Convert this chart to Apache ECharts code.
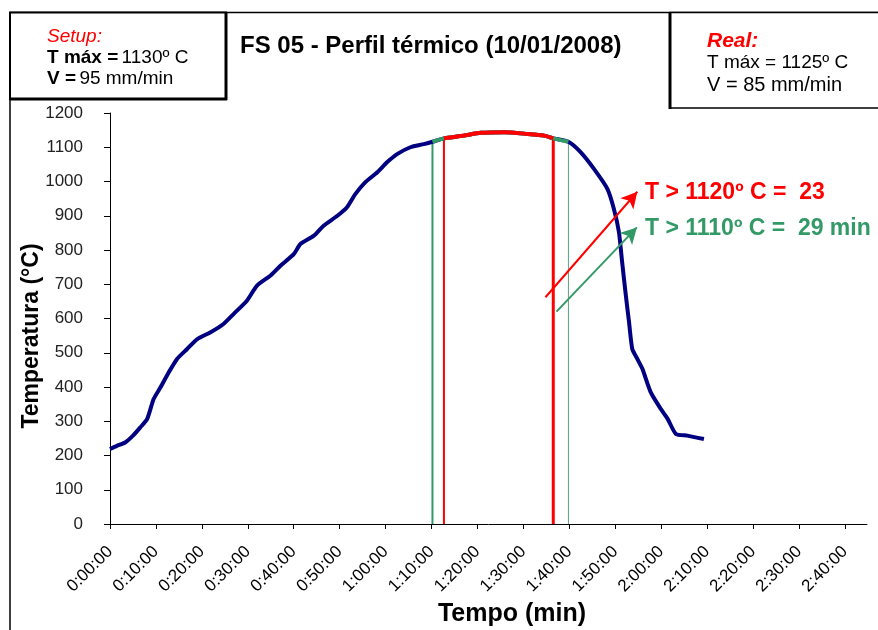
<!DOCTYPE html>
<html>
<head>
<meta charset="utf-8">
<script src="https://cdn.jsdelivr.net/npm/echarts@6/dist/echarts.min.js"></script>
<style>
  html, body { margin: 0; padding: 0; background: #fff; }
  #chart { width: 878px; height: 630px; }
</style>
</head>
<body>
<div id="chart"></div>
<script>
// FS 05 thermal profile — temperature vs elapsed time (minutes)

const timeMin = [
  0, 1.5, 3.3, 5, 6.6, 8.1, 9.5, 11, 12.8, 14.6, 16.8, 19, 21.9, 24.7, 26.9, 29.8,
  32, 34.9, 37.1, 40, 41.5, 44.4, 46.5, 49.5, 51.6, 53.4, 55.6, 58.2, 60.3, 62.5,
  65.4, 68.3, 70.2, 72.7, 77, 80.7, 85.8, 90.8, 94.5, 96.5, 99.8, 102.5, 105.4,
  108.3, 109.7, 110.8, 111.5, 112.3, 113, 113.7, 114.8, 115.9, 117.7, 119.9,
  121.4, 123.2, 125.7, 129.3
];
const tempC = [
  219, 228, 238, 258, 282, 307, 365, 399, 443, 482, 511, 540, 560, 584, 613, 652,
  696, 725, 754, 788, 818, 842, 871, 900, 925, 963, 998, 1027, 1056, 1080,
  1100, 1109, 1116, 1126, 1134, 1142, 1144, 1139, 1134, 1126, 1116, 1085, 1036,
  978, 920, 852, 764, 667, 589, 511, 482, 453, 385, 336,
  307, 263, 258, 248
];

// window above 1110 ºC (green) and above 1120 ºC (red), in minutes
const greenWindow = [70.2, 99.8];
const redWindow = [72.7, 96.5];

// annotation arrows [t, T] start -> end
const redArrow = [[94.8, 662], [114.8, 970]];
const greenArrow = [[97.2, 620], [114.7, 866]];

const xTicks = [0, 10, 20, 30, 40, 50, 60, 70, 80, 90, 100, 110, 120, 130, 140, 150, 160];

const NAVY = '#000080';
const RED = '#ff0000';
const GREEN = '#339966';
const FONT = '"Liberation Sans", Arial, sans-serif';

const pts = timeMin.map((t, i) => [t, tempC[i]]);
const inWin = (w) => pts.filter(p => p[0] >= w[0] && p[0] <= w[1]);
const tempAt = (t) => pts.find(p => p[0] === t)[1];

function fmtTime(v) {
  const h = Math.floor(v / 60);
  const m = Math.round(v - h * 60);
  return h + ':' + String(m).padStart(2, '0') + ':00';
}

function vline(t, color, width) {
  return {
    type: 'line', data: [[t, 0], [t, tempAt(t)]],
    showSymbol: false, silent: true, z: 1,
    lineStyle: { color, width },
  };
}

function arrow(seg, color) {
  return {
    type: 'line', data: [], silent: true,
    markLine: {
      silent: true, symbol: ['none', 'arrow'], symbolSize: [13, 16],
      label: { show: false },
      lineStyle: { color, width: 2, type: 'solid' },
      data: [[{ coord: seg[0] }, { coord: seg[1] }]],
    },
  };
}

const chart = echarts.init(document.getElementById('chart'));

chart.setOption({
  animation: false,
  grid: { left: 110, right: 11, top: 113, bottom: 106 },
  xAxis: {
    type: 'value', min: 0, max: 164.8,
    axisLine: { lineStyle: { color: '#000', width: 1 } },
    axisTick: { customValues: xTicks, length: 5, lineStyle: { color: '#000' } },
    splitLine: { show: false },
    axisLabel: {
      customValues: xTicks, rotate: 45, margin: 25,
      color: '#000', fontSize: 17, fontFamily: FONT,
      formatter: fmtTime,
    },
  },
  yAxis: {
    type: 'value', min: 0, max: 1200, interval: 100,
    axisLine: { show: true, lineStyle: { color: '#000', width: 1 } },
    axisTick: { show: true, length: 6, lineStyle: { color: '#000' } },
    splitLine: { show: false },
    axisLabel: {
      margin: 27, color: '#222', fontSize: 17, fontFamily: FONT,
      formatter: (v) => String(v),
    },
  },
  series: [
    vline(greenWindow[0], GREEN, 2),
    vline(redWindow[0], RED, 2),
    vline(redWindow[1], RED, 3),
    vline(greenWindow[1], '#5fa37f', 1),
    {
      type: 'line', data: pts, showSymbol: false, z: 3, smooth: 0.2,
      lineStyle: { color: NAVY, width: 4 },
    },
    {
      type: 'line', data: inWin(greenWindow), showSymbol: false, z: 4, smooth: 0.2,
      lineStyle: { color: GREEN, width: 4 },
    },
    {
      type: 'line', data: inWin(redWindow), showSymbol: false, z: 5, smooth: 0.2,
      lineStyle: { color: RED, width: 4 },
    },
    arrow(redArrow, RED),
    arrow(greenArrow, GREEN),
  ],
  graphic: [
    // outer frame edges
    { type: 'line', shape: { x1: 10, y1: 12.5, x2: 878, y2: 12.5 }, style: { stroke: '#000', lineWidth: 1.5 } },
    { type: 'line', shape: { x1: 10, y1: 12, x2: 10, y2: 630 }, style: { stroke: '#000', lineWidth: 1.5 } },
    // setup box
    { type: 'rect', shape: { x: 10, y: 12.5, width: 216, height: 86.5 }, style: { fill: '#fff', stroke: '#000', lineWidth: 2 } },
    { type: 'line', shape: { x1: 226, y1: 12, x2: 226, y2: 100 }, style: { stroke: '#000', lineWidth: 3 } },
    { type: 'line', shape: { x1: 10, y1: 99, x2: 227, y2: 99 }, style: { stroke: '#000', lineWidth: 3 } },
    {
      type: 'text', left: 47, top: 27,
      style: {
        text: '{s|Setup:}\n{b|T máx =} {n|1130º C}\n{b|V =} {n|95 mm/min}',
        fontFamily: FONT,
        rich: {
          s: { fontSize: 19, fontStyle: 'italic', fill: RED, fontFamily: FONT, lineHeight: 21 },
          b: { fontSize: 19, fontWeight: 'bold', fill: '#000', fontFamily: FONT, lineHeight: 21 },
          n: { fontSize: 19, fill: '#000', fontFamily: FONT, lineHeight: 21 },
        },
      },
    },
    // real box
    { type: 'rect', shape: { x: 670, y: 12.5, width: 212, height: 95.5 }, style: { fill: '#fff', stroke: '#000', lineWidth: 1.5 } },
    { type: 'line', shape: { x1: 670, y1: 12, x2: 670, y2: 109 }, style: { stroke: '#000', lineWidth: 3 } },
    {
      type: 'text', left: 707, top: 31,
      style: {
        text: '{r|Real:}\n{n|T máx = 1125º C}\n{v|V = 85 mm/min}',
        fontFamily: FONT,
        rich: {
          r: { fontSize: 21, fontStyle: 'italic', fontWeight: 'bold', fill: RED, fontFamily: FONT, lineHeight: 21 },
          n: { fontSize: 19, fill: '#000', fontFamily: FONT, lineHeight: 22 },
          v: { fontSize: 20, fill: '#000', fontFamily: FONT, lineHeight: 22 },
        },
      },
    },
    // title
    {
      type: 'text', left: 240, top: 34,
      style: { text: 'FS 05 - Perfil térmico (10/01/2008)', fontSize: 24, fontWeight: 'bold', fill: '#000', fontFamily: FONT },
    },
    // axis names
    {
      type: 'text', x: 32, y: 336, rotation: Math.PI / 2,
      style: { text: 'Temperatura (°C)', fontSize: 23, fontWeight: 'bold', fill: '#000', fontFamily: FONT, align: 'center', verticalAlign: 'middle' },
    },
    {
      type: 'text', x: 512, y: 614,
      style: { text: 'Tempo (min)', fontSize: 25, fontWeight: 'bold', fill: '#000', fontFamily: FONT, align: 'center', verticalAlign: 'middle' },
    },
    // annotations
    {
      type: 'text', x: 645, y: 193,
      style: { text: 'T > 1120º C =  23', fontSize: 23, fontWeight: 'bold', fill: RED, fontFamily: FONT, verticalAlign: 'middle' },
    },
    {
      type: 'text', x: 645, y: 229,
      style: { text: 'T > 1110º C =  29 min', fontSize: 23, fontWeight: 'bold', fill: GREEN, fontFamily: FONT, verticalAlign: 'middle' },
    },
  ],
});
</script>
</body>
</html>
